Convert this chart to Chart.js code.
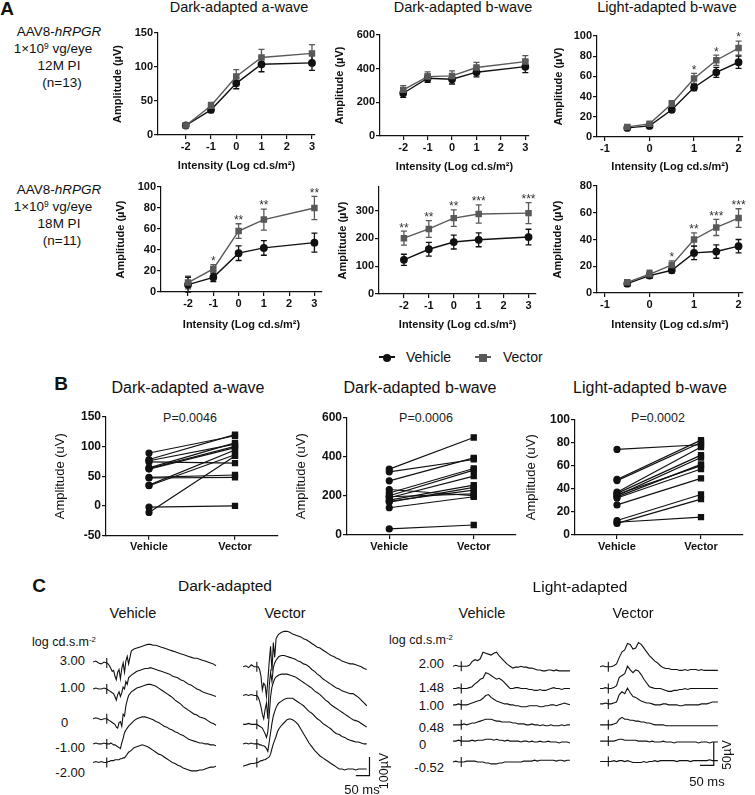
<!DOCTYPE html>
<html>
<head>
<meta charset="utf-8">
<title>AAV8-hRPGR ERG</title>
<script src="https://cdn.jsdelivr.net/npm/chart.js@4.4.1/dist/chart.umd.min.js"></script>
<style>
  body { margin: 0; background: #fff; }
  #fig { position: relative; width: 755px; height: 795px; overflow: hidden; background: #fff;
         font-family: "Liberation Sans", Arial, sans-serif; color: #111; }
  #fig canvas { position: absolute; }
  .t { position: absolute; white-space: nowrap; line-height: 1; }
  .t sup { font-size: 62%; vertical-align: 0.5em; line-height: 0; }
  .sym { position: absolute; }
</style>
</head>
<body>
<div id="fig"></div>
<script>
// ---------- Panel A: mean amplitude (uV) +/- SEM by flash intensity ----------
const X_DARK = [-2, -1, 0, 1, 3];
const X_LIGHT = [-0.5, 0, 0.5, 1, 1.5, 2];
const X_TICKS_DARK = [-2, -1, 0, 1, 2, 3];
const X_TICKS_LIGHT = [-1, 0, 1, 2];

// 12 months post injection (n=13)
const DA_A_12_VEH = [14, 37, 76, 104, 106];
const DA_A_12_VEH_SEM = [2, 4, 8, 11, 11];
const DA_A_12_VEC = [14, 43, 86, 114, 120];
const DA_A_12_VEC_SEM = [2, 5, 10, 12, 13];
const DA_B_12_VEH = [254, 343, 337, 379, 412];
const DA_B_12_VEH_SEM = [25, 25, 28, 28, 35];
const DA_B_12_VEC = [274, 353, 357, 407, 442];
const DA_B_12_VEC_SEM = [25, 28, 30, 30, 35];
const LA_B_12_VEH = [9, 11, 27, 49, 64, 74];
const LA_B_12_VEH_SEM = [1, 1.5, 2, 3, 5, 6];
const LA_B_12_VEC = [10, 13, 33, 58, 76, 88];
const LA_B_12_VEC_SEM = [1, 1.5, 3, 5, 5, 7];
const LA_B_12_STARS = ['', '', '', '*', '*', '*'];

// 18 months post injection (n=11)
const DA_A_18_VEH = [7, 14, 37, 42, 47];
const DA_A_18_VEH_SEM = [7, 4, 7, 7, 9];
const DA_A_18_VEC = [9, 22, 58, 69, 80];
const DA_A_18_VEC_SEM = [6, 4, 7, 10, 11];
const DA_A_18_STARS = ['', '*', '**', '**', '**'];
const DA_B_18_VEH = [123, 161, 187, 195, 205];
const DA_B_18_VEH_SEM = [20, 25, 25, 25, 28];
const DA_B_18_VEC = [201, 234, 273, 288, 291];
const DA_B_18_VEC_SEM = [25, 30, 30, 33, 38];
const DA_B_18_STARS = ['**', '**', '**', '***', '***'];
const LA_B_18_VEH = [7, 13, 17, 30, 31, 35];
const LA_B_18_VEH_SEM = [2, 2, 2, 5, 5, 5];
const LA_B_18_VEC = [8, 14, 21, 40, 49, 56];
const LA_B_18_VEC_SEM = [2, 3, 3, 5, 6, 7];
const LA_B_18_STARS = ['', '', '*', '**', '***', '***'];

// ---------- Panel B: paired eyes ----------
const B_GROUPS = ['Vehicle', 'Vector'];
const B_DA_A_VEH = [89, 78, 74, 76, 64, 62, 48, 47, 35, 34, -2, -11, 63];
const B_DA_A_VEC = [118, 120, 72, 104, 106, 98, 52, 48, 94, 86, 0, 84, 100];
const B_DA_B_VEH = [336, 322, 276, 232, 214, 200, 190, 178, 168, 172, 139, 31, 195];
const B_DA_B_VEC = [497, 385, 393, 200, 339, 331, 300, 254, 243, 229, 195, 51, 210];
const B_LA_B_VEH = [74, 48, 47, 37, 36, 34, 33, 32, 26, 12.5, 10, 11, 35];
const B_LA_B_VEC = [78, 82, 80, 76, 69, 67, 61, 57, 49, 35, 31, 15.5, 60];
const B_P = ['P=0.0046', 'P=0.0006', 'P=0.0002'];

// ---------- Panel C: representative ERG traces (ms, uV from stimulus baseline) ----------
const TIME_DARK = [-50, -40, -30, -20, -10, 0, 5, 10, 15, 20, 25, 30, 35, 40, 45, 50, 55, 60, 65, 70, 75, 80,
  90, 100, 110, 120, 130, 140, 150, 160, 170, 180, 190, 200, 210, 220, 230, 240, 250, 260, 270, 280, 290, 300,
  310, 320, 330, 340, 350, 360, 370, 380, 390, 400];
const DARK_LEVELS = ['3.00', '1.00', '0', '-1.00', '-2.00'];
const DARK_VEH_300 = [5, 10, 0, -5, 5, 0, -5, -15, -30, -45, -40, -70, -90, -50, -35, -85, -30, 0, -50, 10, 35, -5,
  65, 75, 80, 85, 90, 95, 100, 100, 95, 95, 90, 85, 80, 75, 70, 65, 60, 55, 50, 45, 40, 35, 30, 25, 25, 20, 15, 10, 5, 0, -5, -15];
const DARK_VEH_100 = [0, 5, 0, 0, 5, 0, -5, -10, -15, -20, -25, -40, -60, -30, -15, -40, -20, 10, 0, 40, 25, 60,
  75, 85, 95, 100, 105, 110, 110, 115, 110, 105, 100, 95, 90, 85, 80, 70, 65, 60, 50, 45, 35, 25, 20, 10, 0, -5, -15, -20, -25, -30, -35, -40];
const DARK_VEH_0 = [0, 5, 0, -5, 0, 0, -5, -10, -15, -20, -25, -30, -45, -50, -20, -15, -40, 25, 15, 70, 100, 125,
  145, 155, 165, 170, 175, 180, 185, 185, 180, 175, 165, 155, 145, 135, 125, 115, 100, 90, 80, 65, 55, 45, 35, 25, 20, 10, 5, 0, -10, -20, -25, -35];
const DARK_VEH_M100 = [0, 5, 0, 0, 5, 0, 0, 0, 5, 0, -5, -5, -10, -15, -20, -25, 5, 30, 60, 75, 85, 95,
  110, 125, 135, 140, 145, 145, 140, 135, 130, 120, 115, 105, 95, 90, 80, 75, 65, 60, 50, 45, 35, 25, 20, 15, 10, 5, 5, 0, 0, -5, -5, -10];
const DARK_VEH_M200 = [0, 5, 0, 5, 0, 0, 5, 5, 10, 10, 10, 15, 15, 15, 15, 20, 20, 25, 25, 35, 45, 55,
  65, 80, 85, 90, 95, 90, 85, 75, 65, 55, 45, 40, 30, 20, 10, 0, -5, -15, -20, -30, -35, -40, -45, -45, -45, -40, -40, -35, -30, -25, -25, -20];
const DARK_VEC_300 = [0, 5, -5, 10, 0, 0, 0, -15, -50, -125, -90, -100, -160, -75, 25, 110, -25, 130, 50, 150, 165, 175,
  185, 190, 190, 185, 175, 170, 165, 160, 150, 145, 135, 125, 115, 105, 100, 90, 80, 70, 60, 55, 45, 40, 30, 25, 20, 15, 15, 10, 5, 0, -10, -15];
const DARK_VEC_100 = [0, 5, 0, 5, 0, 0, -10, -30, -60, -100, -125, -75, -40, -125, 50, 125, 75, 150, 175, 190, 200, 210,
  215, 215, 210, 205, 200, 195, 185, 180, 170, 165, 155, 140, 130, 115, 105, 90, 80, 70, 60, 50, 40, 35, 25, 20, 15, 10, 10, 0, -10, -25, -40, -55];
const DARK_VEC_0 = [0, 0, 5, 0, 0, 0, -5, -10, -15, -20, -35, -50, -70, -40, 50, 150, 200, 225, 245, 255, 260, 265,
  270, 270, 270, 265, 260, 255, 245, 235, 225, 215, 205, 195, 180, 170, 160, 145, 130, 120, 105, 95, 85, 75, 65, 55, 45, 35, 25, 20, 15, 5, -5, -15];
const DARK_VEC_M100 = [0, 5, 0, 5, 0, 0, 0, -5, -5, -10, -10, -15, -25, -40, 10, 60, 110, 150, 175, 195, 210, 220,
  230, 240, 245, 245, 245, 235, 225, 215, 205, 190, 175, 165, 150, 135, 125, 110, 100, 90, 80, 65, 55, 50, 40, 35, 25, 20, 15, 10, 10, 5, 0, 0];
const DARK_VEC_M200 = [-20, -15, -10, -5, -5, 0, 0, 5, 10, 10, 15, 15, 20, 25, 30, 45, 75, 100, 120, 140, 165, 180,
  200, 215, 230, 235, 230, 220, 205, 180, 155, 130, 105, 85, 65, 50, 35, 25, 15, 5, -5, -15, -25, -35, -35, -40, -35, -35, -35, -40, -35, -35, -35, -35];

const TIME_LIGHT = [-30, -20, -10, 0, 10, 20, 30, 40, 50, 60, 70, 80, 90, 100, 110, 120, 130, 140, 150, 160, 170,
  180, 190, 200, 210, 220, 230, 240, 250, 260, 270, 280, 290, 300, 310, 320, 330, 340, 350, 360, 370, 380, 390, 400];
const LIGHT_LEVELS = ['2.00', '1.48', '1.00', '0.48', '0', '-0.52'];
const LIGHT_VEH_200 = [0, 2, 0, 0, 0, 0, 2, 10, 14, 12, 16, 30, 28, 26, 24, 28, 30, 22, 16, 10, 4, 0, -4, -2,
  -2, 0, -2, -2, -4, -4, -6, -8, -8, -10, -10, -8, -8, -10, -8, -10, -10, -10, -10, -10];
const LIGHT_VEH_148 = [0, 0, 2, 0, 0, 0, 2, 4, 10, 14, 20, 22, 34, 32, 28, 24, 20, 22, 18, 12, 6, 0, 0, 2,
  2, 0, 0, 0, -2, -2, -4, -4, -2, -4, -4, -2, 0, 2, 0, 0, -2, 0, 0, 0];
const LIGHT_VEH_100 = [0, 0, 2, 0, 0, 0, 2, 4, 6, 8, 10, 14, 20, 22, 16, 12, 8, 6, 4, 2, 2, 0, 0, -2,
  -2, -4, -4, -4, -2, -2, -2, -2, -4, -4, -2, -2, 0, 0, -2, 0, 2, 4, 2, 0];
const LIGHT_VEH_048 = [0, 0, 0, 0, 2, 0, 2, 4, 4, 6, 8, 10, 12, 12, 12, 10, 8, 8, 6, 6, 6, 6, 4, 4,
  2, 2, 2, 0, 0, 2, 0, 0, -2, 0, -2, -2, 0, -2, -2, -2, 0, -2, 0, 0];
const LIGHT_VEH_0 = [0, 0, 2, 0, 0, 0, 0, 2, 0, 2, 2, 2, 4, 4, 4, 2, 4, 2, 2, 0, 2, 0, 0, 0,
  0, -2, 0, 0, -2, 0, -2, -2, 0, -2, -2, 0, -2, -2, -2, -4, -2, -2, -2, -4];
const LIGHT_VEH_M052 = [0, 2, 0, 0, 0, 2, 2, 2, 2, 0, 0, 0, -2, -2, -4, -4, -4, -2, -2, 0, 0, 0, 0, 0,
  0, 0, 2, 2, 2, 2, 4, 2, 4, 4, 4, 4, 4, 4, 2, 4, 4, 2, 4, 4];
const LIGHT_VEC_200 = [0, 2, 0, 0, 0, 2, 6, 20, 32, 36, 50, 48, 38, 40, 52, 48, 40, 32, 24, 18, 12, 8, 2, -2,
  -4, -4, -6, -6, -6, -8, -8, -6, -8, -6, -6, -6, -8, -6, -8, -8, -8, -8, -8, -8];
const LIGHT_VEC_148 = [0, 0, 2, 0, 0, 2, 6, 24, 28, 32, 48, 40, 34, 40, 38, 30, 20, 12, 4, 2, 0, 0, 0, -2,
  -4, -6, -6, -4, -4, -2, -2, 0, -2, 0, 0, 0, 0, 0, 0, 0, 0, 0, 0, 0];
const LIGHT_VEC_100 = [0, 0, 2, 0, 0, 2, 4, 20, 26, 22, 34, 24, 16, 14, 10, 6, 4, 2, 2, 0, -2, -2, -2, 0,
  0, -2, -2, -2, -2, -4, -4, -2, -2, -2, -2, -2, -2, 0, 0, 0, 2, 4, 4, 4];
const LIGHT_VEC_048 = [0, 0, 0, 0, 0, 2, 4, 12, 16, 12, 12, 10, 10, 8, 8, 6, 6, 4, 4, 2, 0, 0, 0, 0,
  -2, -2, -2, -2, -2, -2, -2, -2, -2, -2, -2, -2, -2, -2, -2, -2, -2, -2, -2, -2];
const LIGHT_VEC_0 = [0, 0, 0, 0, 0, 0, 2, 4, 4, 2, 2, 2, 2, 2, 0, 0, 0, 0, -2, 0, -2, -2, -2, 0,
  -2, -2, -2, -4, -2, -2, -2, -2, -2, -2, -2, -2, -4, -2, -2, -2, -4, -2, -2, -2];
const LIGHT_VEC_M052 = [0, 0, 0, 0, 0, 2, 0, 2, 2, 0, 2, 0, -2, -2, -2, -2, 0, -2, 0, 0, 2, 0, 2, 2,
  2, 2, 2, 2, 0, 2, 2, 2, 2, 0, 2, 2, 2, 2, 2, 2, 4, 2, 2, 2];

// scale bars: [ms, uV]
const SCALE_DARK = [50, 100];
const SCALE_LIGHT = [50, 50];

// ---------------------------------------------------------------------------
const fig = document.getElementById('fig');
Chart.defaults.font.family = '"Liberation Sans", Arial, sans-serif';
Chart.defaults.color = '#111';
Chart.defaults.animation = false;
Chart.defaults.responsive = false;
Chart.defaults.events = [];
Chart.defaults.plugins.legend.display = false;
Chart.defaults.plugins.tooltip.enabled = false;

const BLACK = '#111';
const GREY = '#595959';

function addText(html, x, y, o = {}) {
  const d = document.createElement('div');
  d.className = 't';
  d.innerHTML = html;
  d.style.left = x + 'px';
  d.style.top = y + 'px';
  d.style.fontSize = (o.size || 14) + 'px';
  if (o.bold) d.style.fontWeight = 'bold';
  if (o.color) d.style.color = o.color;
  const ax = o.align === 'left' ? '0' : o.align === 'right' ? '-100%' : '-50%';
  d.style.transform = `translate(${ax},-50%)` + (o.rot ? ` rotate(${o.rot}deg)` : '');
  fig.appendChild(d);
}

function makeCanvas(x, y, w, h) {
  const cv = document.createElement('canvas');
  cv.width = w;
  cv.height = h;
  cv.style.left = x + 'px';
  cv.style.top = y + 'px';
  cv.style.width = w + 'px';
  cv.style.height = h + 'px';
  fig.appendChild(cv);
  return cv;
}

// error bars and significance marks for panel A
const errorBars = {
  id: 'errorBars',
  beforeDatasetsDraw(chart) {
    const { ctx, scales: { x, y } } = chart;
    chart.data.datasets.forEach(ds => {
      if (!ds.sem) return;
      ctx.save();
      ctx.strokeStyle = ds.borderColor;
      ctx.lineWidth = 1.3;
      ds.data.forEach((p, i) => {
        const px = x.getPixelForValue(p.x);
        const hi = y.getPixelForValue(p.y + ds.sem[i]);
        const lo = y.getPixelForValue(p.y - ds.sem[i]);
        ctx.beginPath();
        ctx.moveTo(px, hi); ctx.lineTo(px, lo);
        ctx.moveTo(px - 3, hi); ctx.lineTo(px + 3, hi);
        ctx.moveTo(px - 3, lo); ctx.lineTo(px + 3, lo);
        ctx.stroke();
      });
      ctx.restore();
    });
  },
  afterDatasetsDraw(chart) {
    const { ctx, scales: { x, y } } = chart;
    chart.data.datasets.forEach(ds => {
      if (!ds.stars) return;
      ctx.save();
      ctx.fillStyle = '#333';
      ctx.font = '12px "Liberation Sans", Arial, sans-serif';
      ctx.textAlign = 'center';
      ctx.textBaseline = 'bottom';
      ds.data.forEach((p, i) => {
        if (!ds.stars[i]) return;
        ctx.fillText(ds.stars[i], x.getPixelForValue(p.x), y.getPixelForValue(p.y + ds.sem[i]) + 3);
      });
      ctx.restore();
    });
  }
};

function axisBase(size) {
  return {
    grid: { drawOnChartArea: false, color: BLACK, lineWidth: 1.2, tickLength: 4 },
    border: { color: BLACK, width: 1.2 },
    ticks: { font: { size, weight: 'bold' }, color: BLACK, padding: 1, autoSkip: false, maxRotation: 0 }
  };
}

function panelA(s) {
  const lh = 11 * 1.2;
  const left = Math.round(s.yTitleX - lh / 2);
  const top = Math.round(s.area.t - 26);
  const right = Math.round(s.area.r + 10);
  const bottom = Math.round(s.xTitleY + lh / 2);
  const cv = makeCanvas(left, top, right - left, bottom - top);
  const xy = (xs, ys) => xs.map((x, i) => ({ x, y: ys[i] }));
  new Chart(cv, {
    type: 'line',
    data: {
      datasets: [
        { data: xy(s.x, s.vec), sem: s.vecSem, stars: s.stars, borderColor: GREY, backgroundColor: GREY,
          pointStyle: 'rect', pointRadius: 3.6, borderWidth: 1.4, clip: false },
        { data: xy(s.x, s.veh), sem: s.vehSem, borderColor: BLACK, backgroundColor: BLACK,
          pointStyle: 'circle', pointRadius: 3.2, borderWidth: 1.4, clip: false }
      ]
    },
    options: {
      layout: { padding: { left: 0, top: s.area.t - top, right: right - s.area.r, bottom: 0 } },
      scales: {
        x: Object.assign(axisBase(11), {
          type: 'linear', min: s.xMin, max: s.xMax,
          afterBuildTicks: a => { a.ticks = s.xTicks.map(value => ({ value })); },
          afterFit: a => { a.height = bottom - s.area.b; },
          title: { display: true, text: 'Intensity (Log cd.s/m²)', font: { size: 11, weight: 'bold' }, padding: 0, color: BLACK }
        }),
        y: Object.assign(axisBase(11), {
          min: 0, max: s.yMax,
          afterBuildTicks: a => { a.ticks = s.yTicks.map(value => ({ value })); },
          afterFit: a => { a.width = s.area.l - left; },
          title: { display: true, text: 'Amplitude (µV)', font: { size: 11, weight: 'bold' }, padding: 0, color: BLACK }
        })
      }
    },
    plugins: [errorBars]
  });
}

function panelB(s) {
  const lh = 13 * 1.2;
  const left = Math.round(s.yTitleX - lh / 2);
  const top = Math.round(s.area.t - 12);
  const right = Math.round(s.area.r + 10);
  const bottom = 560;
  const cv = makeCanvas(left, top, right - left, bottom - top);
  new Chart(cv, {
    type: 'line',
    data: {
      datasets: s.veh.map((v, i) => ({
        data: [{ x: 0, y: v }, { x: 1, y: s.vec[i] }],
        borderColor: BLACK, backgroundColor: BLACK, borderWidth: 1.2,
        pointStyle: ['circle', 'rect'], pointRadius: [3, 3.6], clip: false
      }))
    },
    options: {
      layout: { padding: { left: 0, top: s.area.t - top, right: right - s.area.r, bottom: 0 } },
      scales: {
        x: Object.assign(axisBase(11), {
          type: 'linear', min: -0.5, max: 1.5,
          afterBuildTicks: a => { a.ticks = [0, 1].map(value => ({ value })); },
          afterFit: a => { a.height = bottom - s.area.b; }
        }),
        y: Object.assign(axisBase(12), {
          min: s.yMin, max: s.yMax,
          afterBuildTicks: a => { a.ticks = s.yTicks.map(value => ({ value })); },
          afterFit: a => { a.width = s.area.l - left; },
          title: { display: true, text: 'Amplitude (uV)', font: { size: 13 }, padding: 0, color: BLACK }
        })
      }
    }
  });
  // category names on the x axis
  const ch = Chart.getChart(cv);
  ch.options.scales.x.ticks.callback = v => B_GROUPS[v];
  ch.update();
}

const MS_PER_PX = 10 / 3;
const TRACE_TOP = 615, TRACE_H = 175;

function traceChart(c, time, traces) {
  const cv = makeCanvas(c.left, TRACE_TOP, c.width, TRACE_H);
  const datasets = traces.map((tr, i) => ({
    data: time.map((t, j) => ({ x: t, y: tr[j] + c.offsets[i] })),
    borderColor: BLACK, borderWidth: 1.1, pointRadius: 0, clip: false
  }));
  // stimulus onset marks
  datasets.push({
    data: c.offsets.map(o => ({ x: 0, y: o })), showLine: false,
    pointStyle: 'line', pointRotation: 90, pointRadius: 5,
    pointBorderColor: BLACK, pointBorderWidth: 1.1, clip: false
  });
  if (c.bar) {
    const [ms, uv] = c.bar.size;
    datasets.push({
      data: [{ x: c.bar.t - ms, y: c.bar.v }, { x: c.bar.t, y: c.bar.v }, { x: c.bar.t, y: c.bar.v + uv }],
      borderColor: BLACK, borderWidth: 1.2, pointRadius: 0, clip: false
    });
  }
  new Chart(cv, {
    type: 'line',
    data: { datasets },
    options: {
      layout: { padding: 0 },
      scales: {
        x: { type: 'linear', display: false, min: time[0], max: time[0] + c.width * MS_PER_PX },
        y: { display: false, min: 0, max: TRACE_H * c.uvPerPx }
      }
    }
  });
}

// ---------------- Panel A ----------------
addText('A', 7, 8, { size: 19, bold: true });
addText('Dark-adapted a-wave', 239, 7, { size: 14.5 });
addText('Dark-adapted b-wave', 463, 7, { size: 14.5 });
addText('Light-adapted b-wave', 667, 7, { size: 14.5 });

[[32, '12M PI', '(n=13)'], [190, '18M PI', '(n=11)']].forEach(([y0, pi, n]) => {
  addText('AAV8-<i>hRPGR</i>', 59, y0, { size: 13.5 });
  addText('1×10<sup>9</sup> vg/eye', 53, y0 + 17, { size: 13.5 });
  addText(pi, 59, y0 + 34, { size: 13.5 });
  addText(n, 62, y0 + 51, { size: 13.5 });
});

panelA({ area: { l: 158, r: 315, t: 33, b: 135 }, yTitleX: 118, xTitleY: 166,
  xMin: -3.1, xMax: 3.12, xTicks: X_TICKS_DARK, yMax: 150, yTicks: [0, 50, 100, 150],
  x: X_DARK, veh: DA_A_12_VEH, vehSem: DA_A_12_VEH_SEM, vec: DA_A_12_VEC, vecSem: DA_A_12_VEC_SEM });
panelA({ area: { l: 380, r: 529, t: 35, b: 136 }, yTitleX: 340, xTitleY: 167,
  xMin: -2.95, xMax: 3.15, xTicks: X_TICKS_DARK, yMax: 600, yTicks: [0, 200, 400, 600],
  x: X_DARK, veh: DA_B_12_VEH, vehSem: DA_B_12_VEH_SEM, vec: DA_B_12_VEC, vecSem: DA_B_12_VEC_SEM });
panelA({ area: { l: 597, r: 743, t: 36, b: 137 }, yTitleX: 559, xTitleY: 167,
  xMin: -1.18, xMax: 2.1, xTicks: X_TICKS_LIGHT, yMax: 100, yTicks: [0, 20, 40, 60, 80, 100],
  x: X_LIGHT, veh: LA_B_12_VEH, vehSem: LA_B_12_VEH_SEM, vec: LA_B_12_VEC, vecSem: LA_B_12_VEC_SEM, stars: LA_B_12_STARS });
panelA({ area: { l: 161, r: 322, t: 187, b: 292 }, yTitleX: 121, xTitleY: 325,
  xMin: -3.07, xMax: 3.3, xTicks: X_TICKS_DARK, yMax: 100, yTicks: [0, 20, 40, 60, 80, 100],
  x: X_DARK, veh: DA_A_18_VEH, vehSem: DA_A_18_VEH_SEM, vec: DA_A_18_VEC, vecSem: DA_A_18_VEC_SEM, stars: DA_A_18_STARS });
panelA({ area: { l: 379, r: 536, t: 187, b: 294 }, yTitleX: 343, xTitleY: 325,
  xMin: -3.0, xMax: 3.3, xTicks: X_TICKS_DARK, yMax: 385, yTicks: [0, 100, 200, 300],
  x: X_DARK, veh: DA_B_18_VEH, vehSem: DA_B_18_VEH_SEM, vec: DA_B_18_VEC, vecSem: DA_B_18_VEC_SEM, stars: DA_B_18_STARS });
panelA({ area: { l: 597, r: 743, t: 186, b: 293 }, yTitleX: 558, xTitleY: 325,
  xMin: -1.18, xMax: 2.1, xTicks: X_TICKS_LIGHT, yMax: 80, yTicks: [0, 20, 40, 60, 80],
  x: X_LIGHT, veh: LA_B_18_VEH, vehSem: LA_B_18_VEH_SEM, vec: LA_B_18_VEC, vecSem: LA_B_18_VEC_SEM, stars: LA_B_18_STARS });

// legend
function legendItem(x, color, square, label, textX) {
  const line = document.createElement('div');
  line.className = 'sym';
  Object.assign(line.style, { left: x + 'px', top: '356px', width: '16px', height: '2px', background: color });
  fig.appendChild(line);
  const mk = document.createElement('div');
  mk.className = 'sym';
  Object.assign(mk.style, { left: (x + 4) + 'px', top: '353.5px', width: '8px', height: '8px', background: color,
    borderRadius: square ? '0' : '50%' });
  fig.appendChild(mk);
  addText(label, textX, 357, { size: 14, align: 'left' });
}
legendItem(379, BLACK, false, 'Vehicle', 406);
legendItem(475, GREY, true, 'Vector', 503);

// ---------------- Panel B ----------------
addText('B', 61, 383, { size: 19, bold: true });
addText('Dark-adapted a-wave', 188, 387.5, { size: 16 });
addText('Dark-adapted b-wave', 420, 387.5, { size: 16 });
addText('Light-adapted b-wave', 650, 387.5, { size: 16 });
addText(B_P[0], 190, 418, { size: 12.5, color: '#222' });
addText(B_P[1], 426, 418, { size: 12.5, color: '#222' });
addText(B_P[2], 658, 418, { size: 12.5, color: '#222' });

panelB({ area: { l: 106, r: 278, t: 416.7, b: 535.7 }, yTitleX: 61, yMin: -50, yMax: 150,
  yTicks: [-50, 0, 50, 100, 150], veh: B_DA_A_VEH, vec: B_DA_A_VEC });
panelB({ area: { l: 347, r: 516, t: 417.3, b: 535 }, yTitleX: 302, yMin: 0, yMax: 600,
  yTicks: [0, 200, 400, 600], veh: B_DA_B_VEH, vec: B_DA_B_VEC });
panelB({ area: { l: 575, r: 743, t: 419.3, b: 535 }, yTitleX: 532, yMin: 0, yMax: 100,
  yTicks: [0, 20, 40, 60, 80, 100], veh: B_LA_B_VEH, vec: B_LA_B_VEC });

// ---------------- Panel C ----------------
addText('C', 39, 585, { size: 19, bold: true });
addText('Dark-adapted', 225, 586, { size: 15.5 });
addText('Vehicle', 133, 613, { size: 14.5 });
addText('Vector', 285, 613, { size: 14.5 });
addText('Light-adapted', 580, 587, { size: 15.5 });
addText('Vehicle', 482, 613, { size: 14.5 });
addText('Vector', 633, 613, { size: 14.5 });
addText('log cd.s.m<sup>-2</sup>', 64, 642, { size: 12.5 });
addText('log cd.s.m<sup>-2</sup>', 421, 640, { size: 12.5 });

const DARK_LABEL_Y = [660, 687, 722, 747, 772];
DARK_LEVELS.forEach((s, i) => {
  if (s === '0') addText(s, 61, DARK_LABEL_Y[i], { size: 13, align: 'left' });
  else addText(s, 85, DARK_LABEL_Y[i], { size: 13, align: 'right' });
});
const LIGHT_LABEL_Y = [663, 687, 705, 727, 744, 767];
LIGHT_LEVELS.forEach((s, i) => {
  if (s === '0') addText(s, 419, LIGHT_LABEL_Y[i], { size: 13, align: 'left' });
  else addText(s, 444, LIGHT_LABEL_Y[i], { size: 13, align: 'right' });
});

traceChart({ left: 87, width: 136, uvPerPx: 5, offsets: [650, 510, 350, 215, 115] }, TIME_DARK,
  [DARK_VEH_300, DARK_VEH_100, DARK_VEH_0, DARK_VEH_M100, DARK_VEH_M200]);
traceChart({ left: 237, width: 145, uvPerPx: 5, offsets: [630, 475, 320, 215, 115],
  bar: { t: 410, v: 45, size: SCALE_DARK } }, TIME_DARK,
  [DARK_VEC_300, DARK_VEC_100, DARK_VEC_0, DARK_VEC_M100, DARK_VEC_M200]);
traceChart({ left: 447, width: 129, uvPerPx: 2, offsets: [253, 205, 170, 127, 92, 47] }, TIME_LIGHT,
  [LIGHT_VEH_200, LIGHT_VEH_148, LIGHT_VEH_100, LIGHT_VEH_048, LIGHT_VEH_0, LIGHT_VEH_M052]);
traceChart({ left: 594, width: 140, uvPerPx: 2, offsets: [252, 205, 172, 127, 92, 48],
  bar: { t: 385, v: 40, size: SCALE_LIGHT } }, TIME_LIGHT,
  [LIGHT_VEC_200, LIGHT_VEC_148, LIGHT_VEC_100, LIGHT_VEC_048, LIGHT_VEC_0, LIGHT_VEC_M052]);

addText('50 ms', 362, 789, { size: 13 });
addText('100µV', 384, 771, { size: 12.5, rot: -90 });
addText('50 ms', 707, 781, { size: 13 });
addText('50µV', 727, 755, { size: 12.5, rot: -90 });
</script>
</body>
</html>
